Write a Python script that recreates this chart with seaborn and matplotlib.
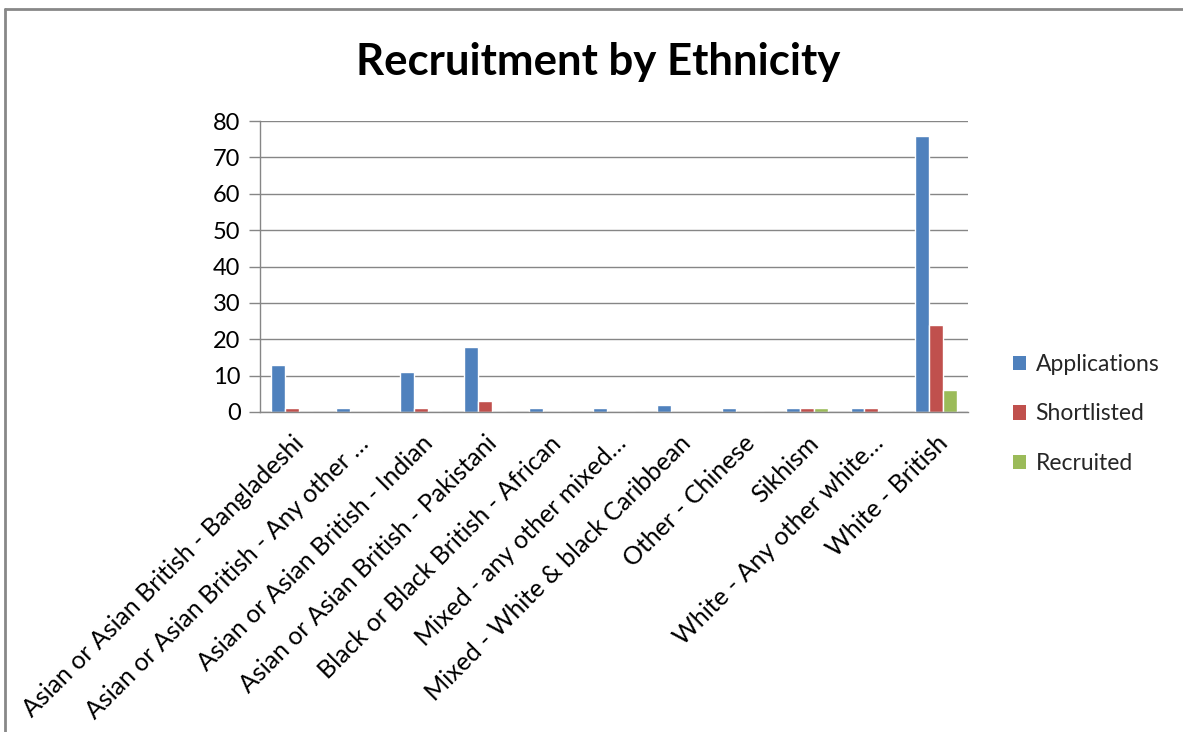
import matplotlib
matplotlib.use("Agg")
import matplotlib.pyplot as plt
from matplotlib.lines import Line2D
from matplotlib.patches import Patch
import seaborn as sns
import pandas as pd

categories = [
    "Asian or Asian British - Bangladeshi",
    "Asian or Asian British - Any other …",
    "Asian or Asian British - Indian",
    "Asian or Asian British - Pakistani",
    "Black or Black British - African",
    "Mixed - any other mixed…",
    "Mixed - White & black Caribbean",
    "Other - Chinese",
    "Sikhism",
    "White - Any other white…",
    "White - British",
]
applications = [13, 1, 11, 18, 1, 1, 2, 1, 1, 1, 76]
shortlisted = [1, 0, 1, 3, 0, 0, 0, 0, 1, 1, 24]
recruited = [0, 0, 0, 0, 0, 0, 0, 0, 1, 0, 6]

series_names = ["Applications", "Shortlisted", "Recruited"]
series_colors = ["#4F81BD", "#C0504D", "#9BBB59"]
y_ticks = [0, 10, 20, 30, 40, 50, 60, 70, 80]

df = pd.DataFrame({
    "Category": categories * 3,
    "Series": sum([[s] * len(categories) for s in series_names], []),
    "Value": applications + shortlisted + recruited,
})

sns.set_theme(style="white")
plt.rcParams["font.family"] = ["Lato", "DejaVu Sans"]

fig = plt.figure(figsize=(11.83, 7.32), dpi=100)
ax = fig.add_axes([260 / 1183, 1 - 412 / 732, 708 / 1183, 291 / 732])

sns.barplot(
    data=df, x="Category", y="Value", hue="Series",
    hue_order=series_names, palette=series_colors,
    width=0.65, saturation=1, ax=ax, legend=False,
)

grid_color = "#868686"
ax.set_ylim(0, 80)
ax.set_yticks(y_ticks)
ax.set_yticklabels([str(t) for t in y_ticks], fontsize=17, color="#000000")
ax.yaxis.grid(True, color=grid_color, linewidth=1)
ax.set_axisbelow(True)
ax.tick_params(axis="y", length=8, width=1, color=grid_color, pad=6, left=True)
ax.tick_params(axis="x", length=0, pad=14)
ax.set_xlim(-0.5, len(categories) - 0.5)
ax.set_xticks(range(len(categories)))
ax.set_xticklabels(categories, rotation=45, ha="right", rotation_mode="anchor",
                   fontsize=18, color="#000000")
ax.set_xlabel("")
ax.set_ylabel("")
for side in ["top", "right"]:
    ax.spines[side].set_visible(False)
for side in ["left", "bottom"]:
    ax.spines[side].set_color(grid_color)
    ax.spines[side].set_linewidth(1)

fig.text(598 / 1183, 1 - 62 / 732, "Recruitment by Ethnicity", ha="center",
         va="center", fontsize=31.5, fontweight="bold", color="#000000")

handles = [Patch(facecolor=c, edgecolor="none") for c in series_colors]
fig.legend(handles, series_names, loc="center left",
           bbox_to_anchor=(992 / 1183, 1 - 414 / 732), frameon=False,
           fontsize=16.5, handlelength=0.6, handleheight=0.6, handletextpad=0.4,
           labelspacing=1.25)

# chart frame (top and left edges)
fig.add_artist(Line2D([5 / 1183, 1.0], [1 - 9 / 732, 1 - 9 / 732],
                      transform=fig.transFigure, color="#888888", linewidth=2))
fig.add_artist(Line2D([5 / 1183, 5 / 1183], [0.0, 1 - 9 / 732],
                      transform=fig.transFigure, color="#888888", linewidth=2))

fig.savefig("out.png", dpi=100, facecolor="white")
